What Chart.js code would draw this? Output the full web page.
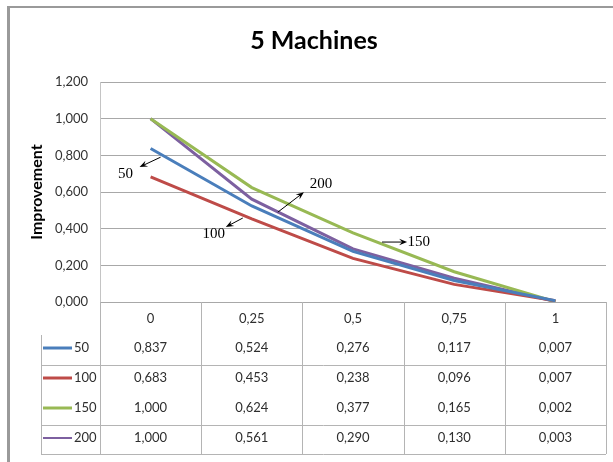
<!DOCTYPE html>
<html>
<head>
<meta charset="utf-8">
<script src="https://cdn.jsdelivr.net/npm/chart.js@4.4.1/dist/chart.umd.min.js"></script>
<style>
  html, body { margin: 0; padding: 0; background: #ffffff; }
  #wrap { position: relative; width: 613px; height: 462px; }
</style>
</head>
<body>
<div id="wrap"><canvas id="c" width="613" height="462"></canvas></div>
<script>
// ---- data ----
const categories = ['0', '0,25', '0,5', '0,75', '1'];
const seriesNames = ['50', '100', '150', '200'];
const values50  = [0.837, 0.524, 0.276, 0.117, 0.007];
const values100 = [0.683, 0.453, 0.238, 0.096, 0.007];
const values150 = [1.000, 0.624, 0.377, 0.165, 0.002];
const values200 = [1.000, 0.561, 0.290, 0.130, 0.003];
const yTickValues = [0, 0.2, 0.4, 0.6, 0.8, 1.0, 1.2];
const chartTitle = '5 Machines';
const yAxisTitle = 'Improvement';
// annotation labels (in data coordinates: category index, value)
const annotationTexts = ['50', '100', '200', '150'];
const annotationArrowFrom = [[0.099, 0.790], [0.911, 0.458], [1.257, 0.490], [2.287, 0.327]];
const annotationArrowTo   = [[-0.109, 0.736], [0.743, 0.409], [1.515, 0.599], [2.535, 0.327]];
const annotationTextAt    = [[-0.248, 0.698], [0.624, 0.371], [1.683, 0.643], [2.650, 0.327]];

const seriesValues = [values50, values100, values150, values200];
const seriesColors = ['#4a7ebb', '#be4b48', '#98b954', '#7d60a0'];
const keyWidths = [3, 3, 3, 2];

const fmt = v => v.toFixed(3).replace('.', ',');
const SANS = 'Lato, "Open Sans", sans-serif';

const framePlugin = {
  id: 'frame',
  beforeDraw(chart) {
    const ctx = chart.ctx;
    ctx.save();
    ctx.fillStyle = '#ffffff';
    ctx.fillRect(0, 0, chart.width, chart.height);
    ctx.fillStyle = '#9a9a9a';
    ctx.fillRect(7, 6, chart.width - 7, 2);
    ctx.fillRect(7, 6, 3, chart.height - 6);
    ctx.restore();
  }
};

const tablePlugin = {
  id: 'dataTable',
  afterDraw(chart) {
    const ctx = chart.ctx;
    const xs = chart.scales.x;
    const ca = chart.chartArea;
    const top = ca.bottom;
    const legendLeft = 41;
    const headerBottom = top + 33;
    const bottom = top + 152;
    const rowCenters = [top + 46, top + 76, top + 106, top + 136];
    ctx.save();
    ctx.strokeStyle = '#b4b4b4';
    ctx.lineWidth = 1;
    // vertical lines
    for (let i = 0; i <= categories.length; i++) {
      const x = Math.round(xs.getPixelForValue(i - 0.5)) + 0.5;
      ctx.beginPath(); ctx.moveTo(x, top); ctx.lineTo(x, bottom); ctx.stroke();
    }
    ctx.beginPath(); ctx.moveTo(legendLeft + 0.5, headerBottom); ctx.lineTo(legendLeft + 0.5, bottom); ctx.stroke();
    // horizontal lines
    [top + 63, top + 123, bottom].forEach(y => {
      const yy = Math.round(y) + 0.5;
      ctx.beginPath(); ctx.moveTo(legendLeft, yy); ctx.lineTo(ca.right, yy); ctx.stroke();
    });
    // header
    ctx.fillStyle = '#2e2e2e';
    ctx.font = '13px ' + SANS;
    ctx.textAlign = 'center';
    ctx.textBaseline = 'middle';
    categories.forEach((c, i) => ctx.fillText(c, xs.getPixelForValue(i), top + 17));
    // rows
    seriesValues.forEach((vals, r) => {
      vals.forEach((v, i) => ctx.fillText(fmt(v), xs.getPixelForValue(i), rowCenters[r]));
      ctx.strokeStyle = seriesColors[r];
      ctx.lineWidth = keyWidths[r];
      ctx.beginPath(); ctx.moveTo(43, rowCenters[r]); ctx.lineTo(72, rowCenters[r]); ctx.stroke();
      ctx.textAlign = 'left';
      ctx.fillText(seriesNames[r], 74, rowCenters[r]);
      ctx.textAlign = 'center';
    });
    ctx.restore();
  }
};

function drawArrow(ctx, x1, y1, x2, y2) {
  const ang = Math.atan2(y2 - y1, x2 - x1);
  const len = 8, hw = 3.2;
  ctx.beginPath();
  ctx.moveTo(x1, y1);
  ctx.lineTo(x2 - Math.cos(ang) * 4, y2 - Math.sin(ang) * 4);
  ctx.stroke();
  ctx.beginPath();
  ctx.moveTo(x2, y2);
  ctx.lineTo(x2 - Math.cos(ang) * len + Math.sin(ang) * hw, y2 - Math.sin(ang) * len - Math.cos(ang) * hw);
  ctx.lineTo(x2 - Math.cos(ang) * (len - 3), y2 - Math.sin(ang) * (len - 3));
  ctx.lineTo(x2 - Math.cos(ang) * len - Math.sin(ang) * hw, y2 - Math.sin(ang) * len + Math.cos(ang) * hw);
  ctx.closePath();
  ctx.fill();
}

const annotationPlugin = {
  id: 'arrows',
  afterDatasetsDraw(chart) {
    const ctx = chart.ctx;
    const xs = chart.scales.x, ys = chart.scales.y;
    ctx.save();
    ctx.strokeStyle = '#000';
    ctx.fillStyle = '#000';
    ctx.lineWidth = 1;
    ctx.font = '15px "Liberation Serif", "DejaVu Serif", serif';
    ctx.textBaseline = 'middle';
    annotationTexts.forEach((t, i) => {
      const f = annotationArrowFrom[i], to = annotationArrowTo[i], at = annotationTextAt[i];
      drawArrow(ctx, xs.getPixelForValue(f[0]), ys.getPixelForValue(f[1]),
                     xs.getPixelForValue(to[0]), ys.getPixelForValue(to[1]));
      ctx.textAlign = 'center';
      ctx.fillText(t, xs.getPixelForValue(at[0]), ys.getPixelForValue(at[1]));
    });
    ctx.restore();
  }
};

new Chart(document.getElementById('c'), {
  type: 'line',
  data: {
    labels: categories,
    datasets: seriesNames.map((n, i) => ({
      label: n,
      data: seriesValues[i],
      borderColor: seriesColors[i],
      backgroundColor: seriesColors[i],
      borderWidth: 3,
      pointRadius: 0,
      tension: 0,
      fill: false
    }))
  },
  options: {
    responsive: false,
    animation: false,
    devicePixelRatio: 1,
    layout: { padding: { left: 22, right: 7, top: 0, bottom: 160 } },
    plugins: {
      legend: { display: false },
      tooltip: { enabled: false },
      title: {
        display: true,
        text: chartTitle,
        color: '#000',
        font: { family: SANS, size: 25, weight: 'bold', lineHeight: 1.2 },
        padding: { top: 26, bottom: 26 }
      }
    },
    scales: {
      x: {
        type: 'category',
        offset: true,
        display: false
      },
      y: {
        min: 0,
        max: 1.2,
        afterBuildTicks: s => { s.ticks = yTickValues.map(v => ({ value: v })); },
        afterFit: s => { s.width = 78; },
        ticks: {
          color: '#333',
          padding: 12,
          font: { family: SANS, size: 13 },
          callback: v => fmt(v)
        },
        grid: { color: '#a8a8a8', lineWidth: 1, drawTicks: false },
        border: { display: true, color: '#c4c4c4' },
        title: {
          display: true,
          text: yAxisTitle,
          color: '#000',
          font: { family: SANS, size: 16, weight: 'bold', lineHeight: 1.2 },
          padding: { top: 5, bottom: 0 }
        }
      }
    }
  },
  plugins: [framePlugin, annotationPlugin, tablePlugin]
});
</script>
</body>
</html>
